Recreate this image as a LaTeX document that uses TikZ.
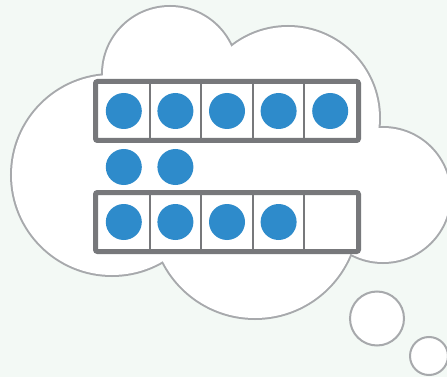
\documentclass[tikz,border=0pt]{standalone}
\definecolor{bgmint}{HTML}{F3F9F5}
\definecolor{cloudgray}{HTML}{A7A9AC}
\definecolor{framegray}{HTML}{77787B}
\definecolor{dotblue}{HTML}{2E8BCB}
\tikzset{
  framebox/.style={draw=framegray, line width=5pt, rounded corners=2pt},
  cellline/.style={draw=framegray, line width=2pt},
  counter/.style={fill=dotblue},
  bubble/.style={draw=cloudgray, line width=2pt, fill=white}
}
\begin{document}
\begin{tikzpicture}[x=1pt,y=-1pt]
  \fill[bgmint] (0,0) rectangle (447,377);
  \useasboundingbox (0,0) rectangle (447,377);
  % cloud: outline of the union of five circles
  \foreach \cx/\cy/\r in {112/175/100, 170/74/67, 288/118/91, 383/195/67, 255/215/103}
    \draw[cloudgray, line width=4pt] (\cx,\cy) circle (\r pt);
  \foreach \cx/\cy/\r in {112/175/100, 170/74/67, 288/118/91, 383/195/67, 255/215/103}
    \fill[white] (\cx,\cy) circle (\r pt);
  % thought bubbles
  \draw[bubble] (377,318.5) circle (27pt);
  \draw[bubble] (429,356) circle (19pt);
  % upper frame
  \foreach \k in {1,...,4}
    \draw[cellline] ({98+51.6*\k},84) -- ({98+51.6*\k},138);
  \draw[framebox] (95.5,81.5) rectangle (358.5,140.5);
  % lower frame
  \foreach \k in {1,...,4}
    \draw[cellline] ({98+51.6*\k},195) -- ({98+51.6*\k},249);
  \draw[framebox] (95.5,192.5) rectangle (358.5,251.5);
  % counters
  \foreach \k in {0,...,4}
    \fill[counter] ({123.8+51.6*\k},111) circle (18pt);
  \foreach \k in {0,1}
    \fill[counter] ({123.8+51.6*\k},167) circle (18pt);
  \foreach \k in {0,...,3}
    \fill[counter] ({123.8+51.6*\k},222) circle (18pt);
\end{tikzpicture}
\end{document}
